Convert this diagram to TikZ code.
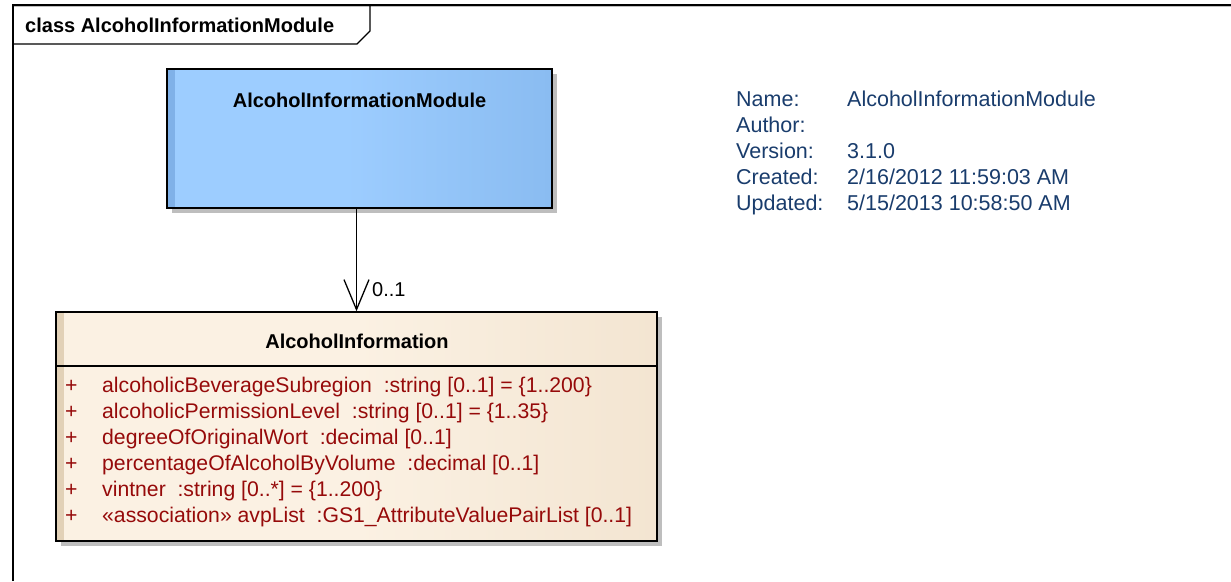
\documentclass[tikz,border=0pt]{standalone}
\usepackage{fontspec}
\setmainfont{Liberation Sans}
\usetikzlibrary{arrows.meta,calc}
\definecolor{blueA}{RGB}{157,205,255}
\definecolor{blueB}{RGB}{120,172,228}
\definecolor{blueStrip}{RGB}{128,177,232}
\definecolor{tanA}{RGB}{251,241,227}
\definecolor{tanB}{RGB}{235,217,192}
\definecolor{tanStrip}{RGB}{226,209,183}
\definecolor{shadowgray}{RGB}{190,190,190}
\definecolor{attrred}{RGB}{150,10,10}
\definecolor{infoblue}{RGB}{25,60,108}
\pgfdeclarehorizontalshading{modshade}{100bp}{color(0bp)=(blueA); color(48bp)=(blueA); color(100bp)=(blueB)}
\pgfdeclarehorizontalshading{infshade}{100bp}{color(0bp)=(tanA); color(50bp)=(tanA); color(100bp)=(tanB)}
\tikzset{
  txt/.style={font=\fontsize{20}{24}\selectfont, inner sep=0pt, anchor=base west},
  ttl/.style={font=\fontsize{20}{24}\selectfont\bfseries, inner sep=0pt, anchor=base},
  attr/.style={txt, font=\fontsize{21.2}{25}\selectfont, text=attrred},
  info/.style={txt, font=\fontsize{21.5}{25}\selectfont, text=infoblue},
  boxline/.style={draw=black, line width=1.4pt},
  assoc/.style={line width=1.3pt, -{Straight Barb[length=30pt,width=25pt,line width=1.3pt]}},
}
\begin{document}
\begin{tikzpicture}[x=1pt,y=-1pt]
\useasboundingbox (0,0) rectangle (1231,581);
% frame
\draw[shadowgray, line width=1pt] (14,6.8) -- (1231,6.8);
\draw[line width=1.3pt] (13,581) -- (13,5) -- (1231,5);
\draw[line width=1.1pt] (13,44) -- (357,44) -- (370,31) -- (370,5);
\node[txt, font=\fontsize{20}{24}\selectfont\bfseries] (frametitle) at (25,32) {class AlcoholInformationModule};

% module box
\fill[shadowgray] (172,74) rectangle (557,213);
\shade[shading=modshade] (167,69) rectangle (552,208);
\fill[blueStrip] (167,69) rectangle (175,208);
\node[boxline, minimum width=385pt, minimum height=139pt, inner sep=0pt] (mod) at (359.5,138.5) {};
\node[ttl] (modtitle) at (359.5,107) {AlcoholInformationModule};

% info class box
\fill[shadowgray] (61,317) rectangle (662,546);
\shade[shading=infshade] (56,312) rectangle (657,541);
\fill[tanStrip] (56,312) rectangle (64,541);
\node[boxline, minimum width=601pt, minimum height=229pt, inner sep=0pt] (ai) at (356.5,426.5) {};
\draw[line width=1.3pt] (ai.west |- 0,366) -- (ai.east |- 0,366);
\node[ttl] (aititle) at (357,348) {AlcoholInformation};

\foreach \i/\t in {0/{alcoholicBeverageSubregion\ \ :string [0..1] = \{1..200\}},
                   1/{alcoholicPermissionLevel\ \ :string [0..1] = \{1..35\}},
                   2/{degreeOfOriginalWort\ \ :decimal [0..1]},
                   3/{percentageOfAlcoholByVolume\ \ :decimal [0..1]},
                   4/{vintner\ \ :string [0..*] = \{1..200\}},
                   5/{«association» avpList\ \ :GS1\_AttributeValuePairList [0..1]}}{
  \node[attr] (plus\i) at (65,392+26*\i) {+};
  \node[attr] (a\i) at (102,392+26*\i) {\t};
}

% connector
\draw[assoc] (ai.north |- mod.south) -- (ai.north);
\node[txt] (mult) at (372,296) {0..1};

% info panel
\foreach \i/\l/\v in {0/{Name:}/{AlcoholInformationModule}, 1/{Author:}/{}, 2/{Version:}/{3.1.0},
                      3/{Created:}/{2/16/2012 11:59:03 AM}, 4/{Updated:}/{5/15/2013 10:58:50 AM}}{
  \node[info] (lab\i) at (736,106+26*\i) {\l};
  \node[info] (val\i) at (847,106+26*\i) {\v};
}
\end{tikzpicture}
\end{document}
